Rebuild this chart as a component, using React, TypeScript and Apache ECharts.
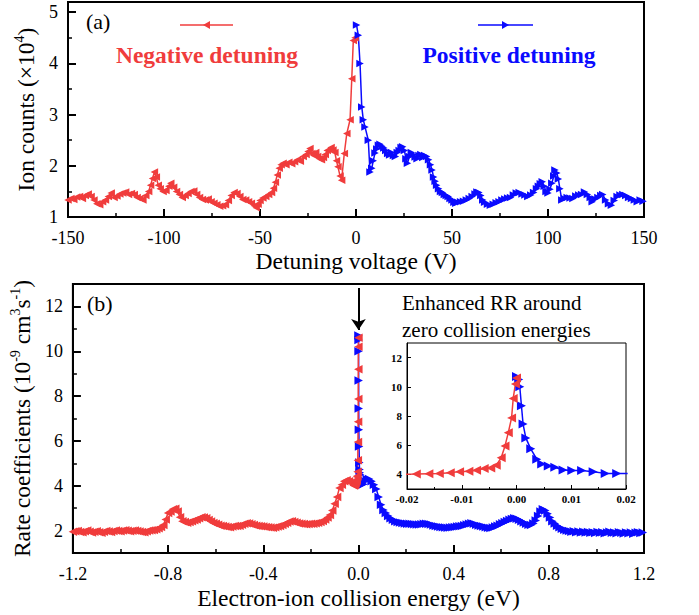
import React, { useEffect, useRef } from 'react';
import * as echarts from 'echarts';

const FONT = 'Liberation Serif, Times New Roman, serif';
const RED = '#f03c3c';
const BLUE = '#0a0aff';

// Panel (a): ion counts (x10^4) vs detuning voltage (V)
const negDetuning: [number, number][] = [
  [-150, 1.33], [-148.5, 1.36], [-147, 1.34], [-145.5, 1.39], [-144, 1.40], [-142.5, 1.36], [-141, 1.42], [-139.5, 1.45],
  [-138, 1.40], [-136.5, 1.33], [-135, 1.26], [-133.5, 1.24], [-132, 1.30], [-130.5, 1.33], [-129, 1.40], [-127.5, 1.47],
  [-126, 1.38], [-124.5, 1.41], [-123, 1.45], [-121.5, 1.47], [-120, 1.49], [-118.5, 1.44], [-117, 1.46], [-115.5, 1.44],
  [-114, 1.38], [-112.5, 1.36], [-111, 1.33], [-109.5, 1.42], [-108, 1.50], [-107, 1.62], [-106, 1.75], [-105, 1.88],
  [-104, 1.78], [-103, 1.62], [-102, 1.55], [-100.5, 1.50], [-99, 1.52], [-97.5, 1.60], [-96.5, 1.66], [-95, 1.58],
  [-93.5, 1.50], [-92, 1.44], [-90.5, 1.38], [-89, 1.42], [-87.5, 1.46], [-86, 1.50], [-84.5, 1.51], [-83, 1.44],
  [-81.5, 1.38], [-80, 1.34], [-78.5, 1.33], [-77, 1.35], [-75.5, 1.30], [-74, 1.27], [-72.5, 1.24], [-71, 1.21],
  [-69.5, 1.22], [-68, 1.24], [-66.5, 1.32], [-65, 1.42], [-63.5, 1.48], [-62, 1.46], [-60.5, 1.40], [-59, 1.34],
  [-57.5, 1.33], [-56, 1.30], [-54.5, 1.27], [-53, 1.22], [-52, 1.18], [-51, 1.25], [-50, 1.32], [-48.5, 1.37],
  [-47, 1.40], [-45.5, 1.44], [-44, 1.48], [-43, 1.56], [-42, 1.68], [-41, 1.82], [-40, 1.95], [-39, 2.02],
  [-38, 2.05], [-36.5, 2.02], [-35, 2.07], [-33.5, 2.04], [-32, 2.08], [-30.5, 2.12], [-29, 2.09], [-27.5, 2.18],
  [-26, 2.22], [-25, 2.28], [-24, 2.34], [-23, 2.24], [-22, 2.20], [-21, 2.26], [-20, 2.18], [-19, 2.14],
  [-18, 2.12], [-17, 2.16], [-16, 2.22], [-15, 2.30], [-14, 2.32], [-13, 2.36], [-12, 2.31], [-11, 2.26],
  [-10.2, 2.10], [-9.4, 1.98], [-8.3, 1.80], [-7.5, 1.72], [-6.1, 2.24], [-4.8, 2.63], [-3.1, 2.90], [-2.2, 3.70],
  [-1.4, 4.45], [-0.5, 4.50],
];

const posDetuning: [number, number][] = [
  [0.3, 4.75], [1.2, 4.55], [2.1, 4.00], [3.0, 3.15], [3.8, 2.90], [4.7, 2.76], [6.4, 2.50], [7.3, 1.88],
  [8.2, 1.95], [9.0, 2.10], [9.9, 2.25], [10.8, 2.33], [11.7, 2.40], [12.5, 2.42], [13.5, 2.38], [14.5, 2.35],
  [15.5, 2.30], [16.5, 2.24], [17.5, 2.21], [18.5, 2.26], [19.5, 2.20], [20.5, 2.18], [21.5, 2.26], [22.5, 2.30],
  [23.5, 2.36], [24.3, 2.37], [25.2, 2.30], [26, 2.14], [26.8, 2.05], [27.8, 2.18], [28.8, 2.26], [29.8, 2.22],
  [30.8, 2.17], [31.8, 2.14], [32.8, 2.20], [33.8, 2.22], [34.8, 2.16], [35.8, 2.20], [36.8, 2.18], [37.8, 2.12],
  [38.8, 2.02], [39.6, 1.92], [40.4, 1.78], [41.2, 1.70], [42, 1.62], [43, 1.55], [44, 1.50], [45, 1.48],
  [46, 1.44], [47, 1.42], [48, 1.40], [49, 1.36], [50, 1.33], [51, 1.29], [52, 1.27], [53, 1.29],
  [54.5, 1.30], [56, 1.31], [57.5, 1.33], [59, 1.36], [60.5, 1.40], [62, 1.45], [63, 1.49], [64, 1.48],
  [65, 1.42], [66, 1.33], [67, 1.29], [68.5, 1.25], [70, 1.23], [71.5, 1.25], [73, 1.28], [74.5, 1.30],
  [76, 1.33], [77.5, 1.35], [79, 1.37], [80.5, 1.38], [82, 1.43], [83.5, 1.47], [85, 1.48], [86.5, 1.45],
  [88, 1.43], [89.5, 1.40], [91, 1.43], [92.5, 1.48], [94, 1.55], [95, 1.60], [96, 1.65], [97, 1.69],
  [98, 1.60], [99, 1.50], [100, 1.47], [101, 1.54], [102, 1.66], [103, 1.80], [103.6, 1.92], [104.6, 1.86],
  [105.4, 1.74], [106.2, 1.55], [107.2, 1.33], [108.5, 1.36], [110, 1.38], [111.5, 1.37], [113, 1.36], [114.5, 1.41],
  [116, 1.43], [117.5, 1.44], [119, 1.49], [120.5, 1.44], [122, 1.38], [123, 1.30], [124.5, 1.35], [126, 1.38],
  [127.5, 1.42], [128.5, 1.44], [130, 1.33], [131.5, 1.26], [133, 1.23], [134.5, 1.32], [136, 1.40], [137.5, 1.43],
  [139, 1.44], [140.5, 1.42], [142, 1.38], [143.5, 1.36], [145, 1.33], [146.5, 1.30], [148, 1.33], [149.5, 1.31],
  [150.5, 1.30],
];

// Panel (b): rate coefficients (1e-9 cm^3 s^-1) vs collision energy (eV)
const rateNegWide: [number, number][] = [
  [-1.20, 1.95], [-1.19, 1.97], [-1.18, 1.98], [-1.17, 1.94], [-1.16, 1.93], [-1.15, 1.97], [-1.14, 2.00], [-1.13, 1.95],
  [-1.12, 1.92], [-1.11, 1.95], [-1.10, 1.97], [-1.09, 1.93], [-1.08, 1.90], [-1.07, 1.95], [-1.06, 1.98], [-1.05, 1.96],
  [-1.04, 1.94], [-1.03, 1.98], [-1.02, 2.00], [-1.01, 1.98], [-1.00, 1.97], [-0.99, 2.00], [-0.98, 2.02], [-0.97, 1.99],
  [-0.96, 1.97], [-0.95, 1.99], [-0.94, 2.00], [-0.93, 1.98], [-0.92, 1.96], [-0.91, 1.94], [-0.90, 1.93], [-0.89, 1.97],
  [-0.88, 2.00], [-0.87, 2.02], [-0.86, 2.03], [-0.85, 2.06], [-0.84, 2.10], [-0.83, 2.16], [-0.82, 2.25], [-0.81, 2.50],
  [-0.80, 2.78], [-0.79, 2.85], [-0.78, 2.95], [-0.77, 2.97], [-0.76, 2.85], [-0.75, 2.60], [-0.74, 2.42], [-0.73, 2.38],
  [-0.72, 2.35], [-0.71, 2.38], [-0.70, 2.42], [-0.69, 2.46], [-0.68, 2.50], [-0.67, 2.55], [-0.66, 2.60], [-0.65, 2.58],
  [-0.64, 2.55], [-0.63, 2.47], [-0.62, 2.40], [-0.61, 2.34], [-0.60, 2.30], [-0.59, 2.26], [-0.58, 2.22], [-0.57, 2.20],
  [-0.56, 2.18], [-0.55, 2.16], [-0.54, 2.15], [-0.53, 2.18], [-0.52, 2.20], [-0.51, 2.20], [-0.50, 2.22], [-0.49, 2.26],
  [-0.48, 2.30], [-0.47, 2.33], [-0.46, 2.32], [-0.45, 2.28], [-0.44, 2.25], [-0.43, 2.22], [-0.42, 2.20], [-0.41, 2.19],
  [-0.40, 2.18], [-0.39, 2.16], [-0.38, 2.15], [-0.37, 2.14], [-0.36, 2.13], [-0.35, 2.15], [-0.34, 2.18], [-0.33, 2.21],
  [-0.32, 2.25], [-0.31, 2.30], [-0.30, 2.35], [-0.29, 2.40], [-0.28, 2.42], [-0.27, 2.38], [-0.26, 2.35], [-0.25, 2.32],
  [-0.24, 2.30], [-0.23, 2.29], [-0.22, 2.28], [-0.21, 2.29], [-0.20, 2.30], [-0.19, 2.31], [-0.18, 2.33], [-0.17, 2.35],
  [-0.16, 2.38], [-0.15, 2.43], [-0.14, 2.50], [-0.13, 2.58], [-0.12, 2.70], [-0.11, 2.90], [-0.10, 3.20], [-0.09, 3.50],
  [-0.08, 3.90], [-0.07, 4.05], [-0.06, 4.20], [-0.05, 4.25], [-0.04, 4.20], [-0.03, 4.10],
];

const ratePosWide: [number, number][] = [
  [0.025, 4.20], [0.035, 4.30], [0.045, 4.30], [0.055, 4.20], [0.065, 4.05], [0.075, 3.85], [0.085, 3.50], [0.095, 3.15],
  [0.105, 2.92], [0.115, 2.78], [0.125, 2.65], [0.135, 2.55], [0.145, 2.48], [0.155, 2.42], [0.165, 2.38], [0.175, 2.36],
  [0.185, 2.34], [0.195, 2.32], [0.205, 2.30], [0.215, 2.30], [0.225, 2.29], [0.235, 2.28], [0.245, 2.27], [0.255, 2.27],
  [0.265, 2.28], [0.275, 2.30], [0.285, 2.30], [0.295, 2.29], [0.305, 2.27], [0.315, 2.23], [0.325, 2.20], [0.335, 2.18],
  [0.345, 2.16], [0.355, 2.15], [0.365, 2.14], [0.375, 2.13], [0.385, 2.14], [0.395, 2.15], [0.405, 2.16], [0.415, 2.18],
  [0.425, 2.19], [0.435, 2.21], [0.445, 2.24], [0.455, 2.27], [0.465, 2.30], [0.475, 2.33], [0.485, 2.30], [0.495, 2.26],
  [0.505, 2.23], [0.515, 2.20], [0.525, 2.18], [0.535, 2.15], [0.545, 2.13], [0.555, 2.12], [0.565, 2.14], [0.575, 2.18],
  [0.585, 2.22], [0.595, 2.28], [0.605, 2.33], [0.615, 2.38], [0.625, 2.43], [0.635, 2.48], [0.645, 2.52], [0.655, 2.55],
  [0.665, 2.53], [0.675, 2.48], [0.685, 2.42], [0.695, 2.36], [0.705, 2.30], [0.715, 2.26], [0.725, 2.25], [0.735, 2.32],
  [0.745, 2.45], [0.755, 2.65], [0.765, 2.85], [0.775, 2.95], [0.785, 2.90], [0.795, 2.75], [0.805, 2.58], [0.815, 2.42],
  [0.825, 2.32], [0.835, 2.22], [0.845, 2.15], [0.855, 2.08], [0.865, 2.04], [0.875, 2.00], [0.885, 1.98], [0.895, 1.95],
  [0.905, 1.97], [0.915, 1.93], [0.925, 1.96], [0.935, 1.92], [0.945, 1.95], [0.955, 1.91], [0.965, 1.94], [0.975, 1.90],
  [0.985, 1.93], [0.995, 1.89], [1.005, 1.94], [1.015, 1.90], [1.025, 1.93], [1.035, 1.88], [1.045, 1.91], [1.055, 1.95],
  [1.065, 1.90], [1.075, 1.92], [1.085, 1.88], [1.095, 1.93], [1.105, 1.90], [1.115, 1.87], [1.125, 1.91], [1.135, 1.88],
  [1.145, 1.92], [1.155, 1.86], [1.165, 1.90], [1.175, 1.93], [1.185, 1.89], [1.195, 1.92],
];

// Inset: zoom around zero collision energy
const rateNegZero: [number, number][] = [
  [-0.0203, 4.01], [-0.0183, 4.02], [-0.0160, 4.05], [-0.0141, 4.06], [-0.0121, 4.12], [-0.0104, 4.19], [-0.0087, 4.22],
  [-0.0073, 4.28], [-0.0059, 4.40], [-0.0047, 4.44], [-0.0037, 4.62], [-0.0028, 5.14], [-0.0021, 5.95], [-0.0015, 6.86],
  [-0.0009, 7.87], [-0.0006, 9.20], [-0.0002, 10.2], [0, 10.6],
];

const ratePosZero: [number, number][] = [
  [0, 10.7], [0.0004, 10.5], [0.0006, 10.0], [0.0009, 8.7], [0.0012, 7.45], [0.0017, 6.5], [0.0026, 5.75],
  [0.0037, 5.04], [0.0046, 4.72], [0.0058, 4.58], [0.0070, 4.49], [0.0085, 4.30], [0.0101, 4.27], [0.0119, 4.27],
  [0.0140, 4.18], [0.0162, 4.07], [0.0183, 4.07], [0.0203, 4.07],
];

const topYLabels = [1, 2, 3, 4, 5];
const topYMinor = [1.5, 2.5, 3.5, 4.5];
const botYLabels = [2, 4, 6, 8, 10, 12];
const botYMinor = [1, 3, 5, 7, 9, 11, 13];
const insetYLabels = [4, 6, 8, 10, 12];

const blk = '#000';

function fmt(d: number) {
  return (v: number) => (Math.abs(v) < 1e-9 ? (0).toFixed(d) : v.toFixed(d));
}

const mainTick = { show: true, inside: true, length: 8, lineStyle: { color: blk, width: 2 } };
const minorTickStyle = { show: true, inside: true, length: 4, lineStyle: { color: blk, width: 1.5 } };
const mainLabel = { color: blk, fontSize: 18, fontFamily: FONT };
const axisLine2 = { show: true, onZero: false, lineStyle: { color: blk, width: 2 } };
const noLine = { show: false, onZero: false };
const TITLE_SIZE = 23.5;

export default function App() {
  const ref = useRef<HTMLDivElement>(null);
  useEffect(() => {
    document.body.style.margin = '0';
    const chart = echarts.init(ref.current!, null, { renderer: 'svg' });
    const supRich = {
      a: { fontSize: TITLE_SIZE, fontFamily: FONT, color: blk, lineHeight: 28 },
      s: { fontSize: 14, fontFamily: FONT, color: blk, lineHeight: 16, verticalAlign: 'top' },
    };
    const mainSeries = (color: string, rot: number, size: number) => ({
      type: 'line', symbol: 'triangle', symbolSize: size, symbolRotate: rot,
      lineStyle: { color, width: 1.5 }, itemStyle: { color }, z: 3,
    });
    const option: any = {
      animation: false,
      textStyle: { fontFamily: FONT },
      grid: [
        { left: 68, top: 2, width: 576, height: 215, show: true, borderColor: blk, borderWidth: 2, backgroundColor: 'transparent' },
        { left: 68, top: 284, width: 576, height: 269, show: true, borderColor: blk, borderWidth: 2, backgroundColor: 'transparent' },
        { left: 407, top: 343, width: 219, height: 146, show: true, borderColor: blk, borderWidth: 1, backgroundColor: '#fff', z: 10 },
      ],
      xAxis: [
        {
          type: 'value', gridIndex: 0, min: -150, max: 150, interval: 50,
          axisLine: axisLine2, axisTick: mainTick,
          minorTick: { show: true, splitNumber: 2, length: 4, lineStyle: { color: blk, width: 1.5 } },
          splitLine: { show: false }, minorSplitLine: { show: false },
          axisLabel: { ...mainLabel, margin: 12 },
          name: 'Detuning voltage (V)', nameLocation: 'middle', nameGap: 32,
          nameTextStyle: { fontSize: TITLE_SIZE, color: blk, fontFamily: FONT },
        },
        {
          type: 'value', gridIndex: 1, min: -1.2, max: 1.2, interval: 0.4,
          axisLine: axisLine2, axisTick: mainTick,
          minorTick: { show: true, splitNumber: 2, length: 4, lineStyle: { color: blk, width: 1.5 } },
          splitLine: { show: false }, minorSplitLine: { show: false },
          axisLabel: { ...mainLabel, margin: 12, formatter: fmt(1) },
          name: 'Electron-ion collision energy (eV)', nameLocation: 'middle', nameGap: 33,
          nameTextStyle: { fontSize: TITLE_SIZE, color: blk, fontFamily: FONT },
        },
        {
          type: 'value', gridIndex: 2, min: -0.02, max: 0.02, interval: 0.01,
          axisLine: { show: true, onZero: false, lineStyle: { color: blk, width: 1 } },
          axisTick: { show: true, inside: true, length: 4, lineStyle: { color: blk, width: 1 } },
          minorTick: { show: true, splitNumber: 2, length: 2, lineStyle: { color: blk, width: 1 } },
          splitLine: { show: false },
          axisLabel: { color: blk, fontSize: 11, fontWeight: 'bold', fontFamily: FONT, margin: 4, formatter: fmt(2) },
          z: 11,
        },
      ],
      yAxis: [
        {
          type: 'value', gridIndex: 0, position: 'left', min: 1, max: 5.2,
          axisLine: axisLine2,
          axisTick: { ...mainTick, customValues: topYLabels },
          axisLabel: { ...mainLabel, margin: 10, customValues: topYLabels },
          splitLine: { show: false },
          name: '{a|Ion counts (×10}{s|4}{a|)}', nameLocation: 'middle', nameGap: 24,
          nameTextStyle: { color: blk, fontFamily: FONT, rich: supRich },
        },
        {
          type: 'value', gridIndex: 0, position: 'left', min: 1, max: 5.2,
          axisLine: noLine, axisLabel: { show: false }, splitLine: { show: false },
          axisTick: { ...minorTickStyle, customValues: topYMinor },
        },
        {
          type: 'value', gridIndex: 1, position: 'left', min: 1, max: 13,
          axisLine: axisLine2,
          axisTick: { ...mainTick, customValues: botYLabels },
          axisLabel: { ...mainLabel, margin: 10, customValues: botYLabels },
          splitLine: { show: false },
          name: '{a|Rate coefficients (10}{s|-9}{a| cm}{s|3}{a|s}{s|-1}{a|)}', nameLocation: 'middle', nameGap: 26,
          nameTextStyle: { color: blk, fontFamily: FONT, rich: supRich },
        },
        {
          type: 'value', gridIndex: 1, position: 'left', min: 1, max: 13,
          axisLine: noLine, axisLabel: { show: false }, splitLine: { show: false },
          axisTick: { ...minorTickStyle, customValues: botYMinor },
        },
        {
          type: 'value', gridIndex: 2, position: 'left', min: 3, max: 13,
          axisLine: { show: true, onZero: false, lineStyle: { color: blk, width: 1 } },
          axisTick: { show: true, inside: true, length: 4, lineStyle: { color: blk, width: 1 }, customValues: insetYLabels },
          axisLabel: { color: blk, fontSize: 11, fontWeight: 'bold', fontFamily: FONT, margin: 5, customValues: insetYLabels },
          splitLine: { show: false },
          z: 11,
        },
      ],
      series: [
        { name: 'Negative detuning', xAxisIndex: 0, yAxisIndex: 0, data: negDetuning, ...mainSeries(RED, 90, 7.5) },
        { name: 'Positive detuning', xAxisIndex: 0, yAxisIndex: 0, data: posDetuning, ...mainSeries(BLUE, -90, 7.5) },
        {
          name: 'Positive energy', xAxisIndex: 1, yAxisIndex: 2, data: [...ratePosZero, ...ratePosWide], ...mainSeries(BLUE, -90, 8.5),
          markLine: {
            silent: true, symbol: ['none', 'arrow'], symbolSize: 11, animation: false,
            label: { show: false }, lineStyle: { color: blk, width: 2, type: 'solid' },
            data: [[{ coord: [0, 12.82] }, { coord: [0, 10.95] }]],
          },
        },
        { name: 'Negative energy', xAxisIndex: 1, yAxisIndex: 2, data: [...rateNegWide, ...rateNegZero], ...mainSeries(RED, 90, 8.5) },
        {
          name: 'Inset positive', type: 'line', xAxisIndex: 2, yAxisIndex: 4, data: ratePosZero,
          symbol: 'triangle', symbolSize: 9, symbolRotate: -90,
          lineStyle: { color: BLUE, width: 1.5 }, itemStyle: { color: BLUE }, z: 12,
        },
        {
          name: 'Inset negative', type: 'line', xAxisIndex: 2, yAxisIndex: 4, data: rateNegZero,
          symbol: 'triangle', symbolSize: 9, symbolRotate: 90,
          lineStyle: { color: RED, width: 1.5 }, itemStyle: { color: RED }, z: 12,
          markLine: {
            silent: true, symbol: ['none', 'arrow'], symbolSize: 9, animation: false,
            label: { show: false }, lineStyle: { color: blk, width: 2, type: 'solid' },
            data: [[{ coord: [0, 12.78] }, { coord: [0, 11.1] }]],
          },
        },
      ],
      graphic: [
        { type: 'text', x: 86, y: 21, style: { text: '(a)', fill: blk, fontSize: 22, fontFamily: FONT, verticalAlign: 'middle', textVerticalAlign: 'middle' } },
        { type: 'text', x: 87, y: 303, style: { text: '(b)', fill: blk, fontSize: 22, fontFamily: FONT, verticalAlign: 'middle', textVerticalAlign: 'middle' } },
        { type: 'line', shape: { x1: 180, y1: 25, x2: 233, y2: 25 }, style: { stroke: RED, lineWidth: 1.5 } },
        { type: 'polygon', shape: { points: [[203, 25], [210, 21], [210, 29]] }, style: { fill: RED } },
        { type: 'line', shape: { x1: 478, y1: 25, x2: 533, y2: 25 }, style: { stroke: BLUE, lineWidth: 1.5 } },
        { type: 'polygon', shape: { points: [[509, 25], [502, 21], [502, 29]] }, style: { fill: BLUE } },
        {
          type: 'text', x: 207, y: 55,
          style: { text: 'Negative detuning', fill: RED, fontSize: 23.5, fontWeight: 'bold', fontFamily: FONT, align: 'center', textAlign: 'center', verticalAlign: 'middle', textVerticalAlign: 'middle' },
        },
        {
          type: 'text', x: 509, y: 55,
          style: { text: 'Positive detuning', fill: BLUE, fontSize: 23.5, fontWeight: 'bold', fontFamily: FONT, align: 'center', textAlign: 'center', verticalAlign: 'middle', textVerticalAlign: 'middle' },
        },
        { type: 'text', x: 402, y: 303, style: { text: 'Enhanced RR around', fill: blk, fontSize: 21, fontFamily: FONT, verticalAlign: 'middle', textVerticalAlign: 'middle' } },
        { type: 'text', x: 402, y: 330, style: { text: 'zero collision energies', fill: blk, fontSize: 21, fontFamily: FONT, verticalAlign: 'middle', textVerticalAlign: 'middle' } },
      ],
    };
    chart.setOption(option);
    return () => chart.dispose();
  }, []);
  return <div ref={ref} style={{ width: 699, height: 615, position: 'absolute', left: 0, top: 0 }} />;
}
